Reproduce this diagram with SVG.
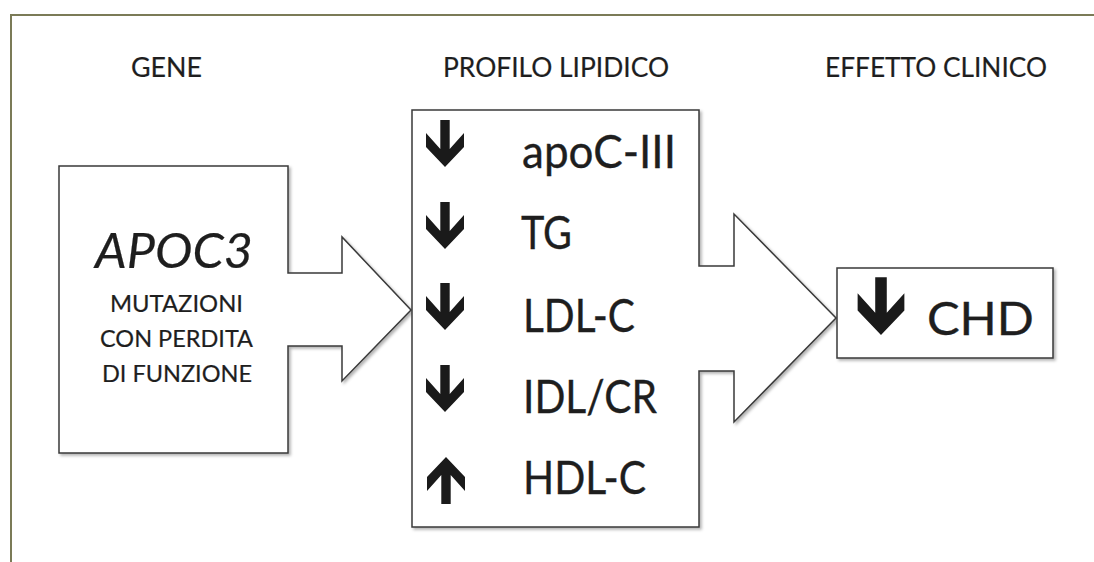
<svg xmlns="http://www.w3.org/2000/svg" xmlns:xlink="http://www.w3.org/1999/xlink" width="1094" height="562" viewBox="0 0 1094 562">
<style>
.frame{fill:none;stroke:#7b7b57;stroke-width:2}
.shape{fill:#fff;stroke:#3a3a3a;stroke-width:1.5;filter:url(#sh)}
.t{font-family:Lato,"Open Sans",sans-serif;fill:#1e1e1e;stroke:#1e1e1e;stroke-width:0.2}
.hdr{font-size:27px;text-anchor:middle}
.sub{font-size:23.5px;text-anchor:middle}
.big{font-size:47px;stroke-width:0.35}
.arr{fill:#1a1a1a}
</style>
<defs>
<filter id="sh" x="-10%" y="-10%" width="120%" height="120%">
<feDropShadow dx="2" dy="2" stdDeviation="1.5" flood-color="#000" flood-opacity="0.3"/>
</filter>
<path id="dn" d="M-4.7,-47 L4.7,-47 L4.7,-18 L19,-34 L19,-20 L0,0 L-19,-20 L-19,-34 L-4.7,-18 Z"/>
</defs>
<path class="frame" d="M11,562 L11,15 L1094,15"/>
<text class="t hdr" x="166.5" y="77" textLength="71" lengthAdjust="spacingAndGlyphs">GENE</text>
<text class="t hdr" x="556" y="77" textLength="226" lengthAdjust="spacingAndGlyphs">PROFILO LIPIDICO</text>
<text class="t hdr" x="936" y="77" textLength="222" lengthAdjust="spacingAndGlyphs">EFFETTO CLINICO</text>
<g id="connectors">
</g>
<g id="gene">
<path class="shape" d="M59,166 L288,166 L288,273 L342,273 L342,237 L411,310 L342,381 L342,346 L288,346 L288,453 L59,453 Z"/>
<text class="t" x="174" y="268" font-size="48" font-style="italic" text-anchor="middle" stroke-width="0.35" textLength="158" lengthAdjust="spacingAndGlyphs">APOC3</text>
<text class="t sub" x="176.5" y="312" textLength="133" lengthAdjust="spacingAndGlyphs">MUTAZIONI</text>
<text class="t sub" x="176.5" y="347" textLength="153" lengthAdjust="spacingAndGlyphs">CON PERDITA</text>
<text class="t sub" x="177" y="382" textLength="150" lengthAdjust="spacingAndGlyphs">DI FUNZIONE</text>
</g>
<g id="profilo">
<path class="shape" d="M412,110 L699,110 L699,266 L734,266 L734,214 L836,318 L734,422 L734,371 L699,371 L699,527 L412,527 Z"/>
<use xlink:href="#dn" class="arr" transform="translate(445,167)"/>
<use xlink:href="#dn" class="arr" transform="translate(445,249)"/>
<use xlink:href="#dn" class="arr" transform="translate(445,330)"/>
<use xlink:href="#dn" class="arr" transform="translate(445,412)"/>
<use xlink:href="#dn" class="arr" transform="translate(446,457) rotate(180)"/>
<text class="t big" x="522" y="168" textLength="154" lengthAdjust="spacingAndGlyphs">apoC-III</text>
<text class="t big" x="521" y="249" textLength="51" lengthAdjust="spacingAndGlyphs">TG</text>
<text class="t big" x="523" y="332" textLength="112" lengthAdjust="spacingAndGlyphs">LDL-C</text>
<text class="t big" x="523" y="413" textLength="134" lengthAdjust="spacingAndGlyphs">IDL/CR</text>
<text class="t big" x="523" y="494" textLength="123" lengthAdjust="spacingAndGlyphs">HDL-C</text>
</g>
<g id="effetto">
<rect class="shape" x="837" y="268" width="216" height="90"/>
<use xlink:href="#dn" class="arr" transform="translate(881,335) scale(1.23)"/>
<text class="t big" x="927" y="335" font-size="57" textLength="107" lengthAdjust="spacingAndGlyphs">CHD</text>
</g>
</svg>
